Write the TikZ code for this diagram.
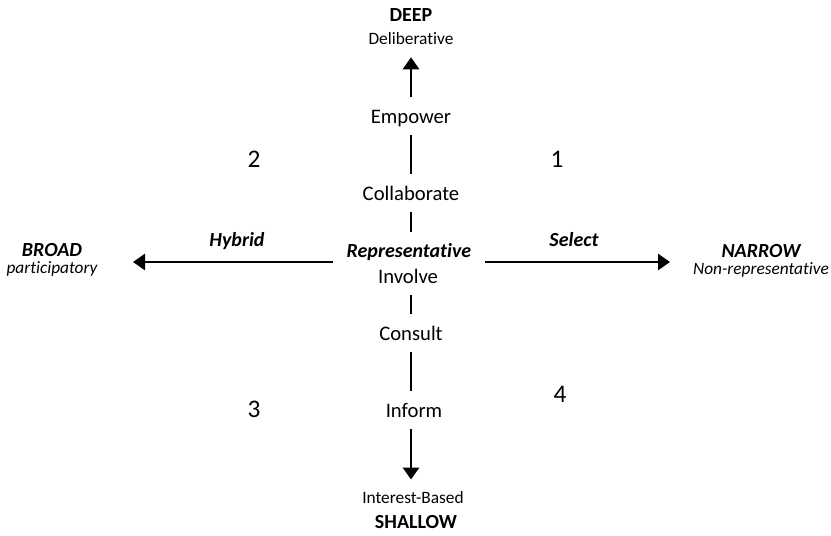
\documentclass[tikz,border=0pt]{standalone}
\usepackage{fontspec}
\setmainfont{Carlito}[Ligatures=NoCommon]
\usetikzlibrary{arrows.meta}

\begin{document}
\begin{tikzpicture}[x=0.75pt,y=-0.75pt,>={Triangle[length=9pt,width=12pt]},
axis/.style={line width=2.2pt},
lvl/.style={font=\fontsize{15.5}{18}\selectfont,anchor=base,inner ysep=9pt,text height=10pt,text depth=0pt},
pole/.style={font=\fontsize{15}{18}\selectfont\bfseries,anchor=base,inner ysep=9pt,text height=9.7pt,text depth=0pt},
poledesc/.style={font=\fontsize{13}{16}\selectfont,anchor=base,inner ysep=9pt,text height=8.4pt,text depth=0pt},
side/.style={font=\fontsize{15}{18}\selectfont\bfseries\itshape,anchor=base},
sidedesc/.style={font=\fontsize{13}{16}\selectfont\itshape,anchor=base},
quad/.style={font=\fontsize{19}{22}\selectfont,anchor=base}]
\useasboundingbox (0,0) rectangle (831,535);
%vertical scale
\node[pole] (deep) at (411,22) {DEEP};
\node[poledesc] (delib) at (411,45) {Deliberative};
\node[lvl] (empower) at (411,123) {Empower};
\node[lvl] (collab) at (411,200) {Collaborate};
\node[side,inner xsep=10pt,inner ysep=9pt,text height=9.7pt,text depth=0pt] (repr) at (409,257) {Representative};
\node[lvl] (involve) at (408,283) {Involve};
\node[lvl] (consult) at (411,340) {Consult};
\node[lvl] (inform) at (414,417) {Inform};
\node[poledesc] (interest) at (413,503) {Interest-Based};
\node[pole] (shallow) at (416,528) {SHALLOW};
\draw[axis,->](empower.north)--(delib.south);
\draw[axis](empower.south)--(collab.north)
(collab.south)--(collab.south|-repr.north)
(involve.south-|consult)--(consult.north)
(consult.south)--(consult.south|-inform.north);
\draw[axis,->](inform.south-|consult)--(interest.north-|consult);
%horizontal scale
\coordinate (west) at (133,262);
\coordinate (east) at (670,262);
\draw[axis,->](repr.west|-west)--(west);
\draw[axis,->](repr.east|-east)--(east);
\node[side] (hybrid) at (237,246) {Hybrid};
\node[side] (select) at (574,246) {Select};
\node[side] (broad) at (52,256) {BROAD};
\node[sidedesc] (partic) at (52,273) {participatory};
\node[side] (narrow) at (761,257) {NARROW};
\node[sidedesc] (nonrep) at (761,274) {Non-representative};
%quadrants
\node[quad] (q1) at (557,167) {1};
\node[quad] (q2) at (254,167) {2};
\node[quad] (q3) at (254,417) {3};
\node[quad] (q4) at (560,402) {4};
\end{tikzpicture}
\end{document}
